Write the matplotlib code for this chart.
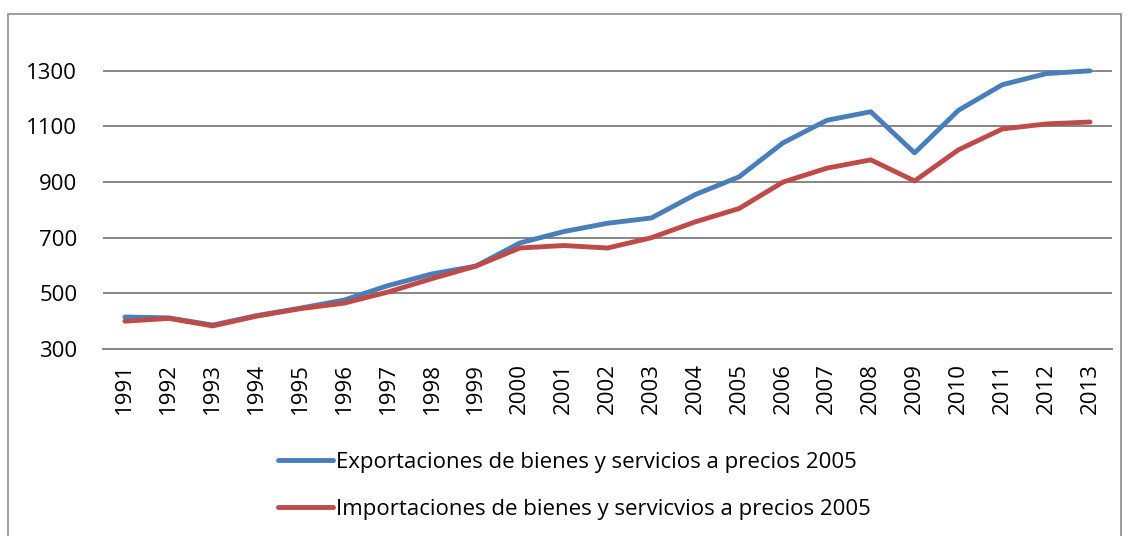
import matplotlib
matplotlib.use("Agg")
import matplotlib.pyplot as plt
from matplotlib.patches import Rectangle

# 数据（按图读取，单位与原图一致）
years = [str(y) for y in range(1991, 2014)]
exportaciones = [415, 412, 386, 420, 447, 476, 528, 570, 598, 681, 722, 752,
                 771, 855, 919, 1041, 1122, 1153, 1005, 1158, 1250, 1290, 1300]
importaciones = [400, 410, 383, 418, 445, 465, 505, 553, 598, 663, 672, 663,
                 700, 757, 805, 900, 950, 980, 904, 1016, 1091, 1109, 1116]
y_ticks = [300, 500, 700, 900, 1100, 1300]

label_exp = "Exportaciones de bienes y servicios a precios 2005"
label_imp = "Importaciones de bienes y servicvios a precios 2005"

plt.rcParams["font.family"] = ["Open Sans", "DejaVu Sans"]

fig = plt.figure(figsize=(11.28, 5.36), dpi=100)
W, H = 1128, 536

# 外框
fig.patches.append(Rectangle((8 / W, -0.05), (1121 - 8) / W, 1.05 - 14 / H,
                             transform=fig.transFigure, fill=False,
                             edgecolor="#8c8c8c", linewidth=1.2))

ax = fig.add_axes([103 / W, 1 - 349 / H, (1112 - 103) / W, (349 - 43) / H])
x = list(range(len(years)))
ax.plot(x, exportaciones, color="#4A7EBB", linewidth=3.5, solid_capstyle="round",
        solid_joinstyle="round", label=label_exp)
ax.plot(x, importaciones, color="#BE4B48", linewidth=3.5, solid_capstyle="round",
        solid_joinstyle="round", label=label_imp)

ax.set_xlim(-0.5, len(years) - 0.5)
ax.set_ylim(300, 1400)
ax.set_yticks(y_ticks)
ax.set_yticklabels([str(v) for v in y_ticks], fontsize=16)
ax.set_xticks(x)
ax.set_xticklabels(years, rotation=90, fontsize=16)
ax.tick_params(axis="both", length=0)
ax.tick_params(axis="y", pad=18.5)
ax.tick_params(axis="x", pad=10)
ax.grid(axis="y", color="#868686", linewidth=1.4)
ax.set_axisbelow(True)
for side in ["top", "right", "left"]:
    ax.spines[side].set_visible(False)
ax.spines["bottom"].set_color("#868686")
ax.spines["bottom"].set_linewidth(1.4)

leg = fig.legend(loc="center", bbox_to_anchor=(574 / W, 1 - 486 / H), ncol=1,
                 frameon=False, fontsize=16, handlelength=2.5, handletextpad=0.1,
                 labelspacing=1.15)

fig.savefig("out.png", dpi=100)
